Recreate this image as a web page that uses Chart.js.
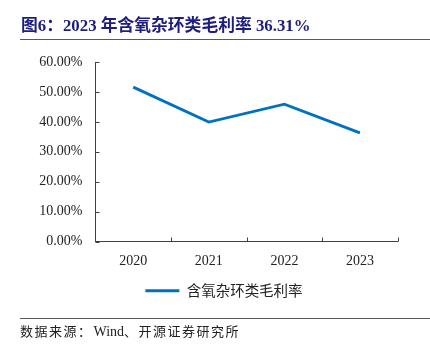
<!DOCTYPE html>
<html>
<head>
<meta charset="utf-8">
<script src="https://cdn.jsdelivr.net/npm/chart.js@4/dist/chart.umd.min.js"></script>
<style>
  html, body { margin: 0; padding: 0; background: #fff; }
  body { width: 430px; height: 356px; position: relative; overflow: hidden; }
  #wrap { position: absolute; left: 0; top: 0; width: 430px; height: 356px; }
  .title { position: absolute; left: 21px; top: 15.5px; font-family: "Liberation Serif", "Noto Sans CJK SC", serif; font-weight: bold; font-size: 16.8px; color: #1d1d7d; white-space: nowrap; line-height: 20px; }
  .rule { position: absolute; left: 20px; width: 410px; height: 0; border-top: 1.5px solid #595959; }
  .source { position: absolute; left: 20px; top: 323px; font-family: "Liberation Serif", "Noto Sans CJK SC", serif; font-size: 13px; color: #222; white-space: nowrap; line-height: 18px; }
  .source .cj { letter-spacing: 1.5px; }
  .source .en { font-size: 14px; letter-spacing: 0; margin-left: 1px; }
</style>
</head>
<body>
<div id="wrap"><canvas id="c" width="430" height="356"></canvas></div>
<div class="title">图6：2023 年含氧杂环类毛利率 36.31%</div>
<div class="rule" style="top:38.5px"></div>
<div class="rule" style="top:317.5px"></div>
<div class="source"><span class="cj">数据来源：</span><span class="en">Wind</span><span class="cj">、开源证券研究所</span></div>
<script>
const categories = ['2020', '2021', '2022', '2023'];
const seriesName = '含氧杂环类毛利率';
const grossMargin = [51.6, 39.9, 45.9, 36.31];
const yTickLabels = ['0.00%', '10.00%', '20.00%', '30.00%', '40.00%', '50.00%', '60.00%'];

const axisFont = { family: '"Liberation Serif", "Times New Roman", serif', size: 14 };

const innerTicks = {
  id: 'innerTicks',
  afterDraw(chart) {
    const ctx = chart.ctx;
    const xs = chart.scales.x, ys = chart.scales.y;
    const area = chart.chartArea;
    ctx.save();
    ctx.strokeStyle = '#404040';
    ctx.lineWidth = 1;
    ctx.beginPath();
    ys.ticks.forEach(t => {
      const y = Math.round(ys.getPixelForValue(t.value)) + 0.5;
      ctx.moveTo(area.left, y);
      ctx.lineTo(area.left + 4, y);
    });
    for (let i = 0; i < categories.length; i++) {
      const x = Math.round(xs.getPixelForValue(i + 0.5)) + 0.5;
      ctx.moveTo(x, area.bottom);
      ctx.lineTo(x, area.bottom - 4);
    }
    ctx.stroke();
    ctx.restore();
  }
};

// centre the legend row where the reference has it
const legendShift = {
  id: 'legendShift',
  afterLayout(chart) {
    const lg = chart.legend;
    if (!lg) return;
    const targetCenter = 224;
    const cur = (lg.left + lg.right) / 2;
    const d = targetCenter - cur;
    lg.left += d;
    lg.right += d;
  }
};

new Chart(document.getElementById('c'), {
  type: 'line',
  data: {
    labels: categories,
    datasets: [{
      label: seriesName,
      data: grossMargin,
      borderColor: '#0070C0',
      backgroundColor: '#0070C0',
      borderWidth: 2.8,
      pointRadius: 0,
      tension: 0,
      fill: false
    }]
  },
  options: {
    responsive: false,
    animation: false,
    devicePixelRatio: 1,
    layout: { padding: { left: 0, right: 32.3, top: 62, bottom: 48 } },
    plugins: {
      title: { display: false },
      tooltip: { enabled: false },
      legend: {
        display: true,
        position: 'bottom',
        labels: {
          usePointStyle: true,
          pointStyle: 'line',
          pointStyleWidth: 34,
          boxHeight: 14,
          color: '#222',
          font: { family: '"Noto Sans CJK SC", sans-serif', size: 14.5 },
          padding: 10
        }
      }
    },
    scales: {
      x: {
        offset: true,
        afterFit: s => { s.height = 32; },
        grid: { display: true, drawOnChartArea: false, drawTicks: false, offset: true, color: 'rgba(0,0,0,0)' },
        border: { display: true, color: '#404040', width: 1 },
        ticks: { color: '#222', font: axisFont, padding: 11, maxRotation: 0 }
      },
      y: {
        min: 0,
        max: 60,
        afterFit: s => { s.width = 95.5; },
        grid: { display: true, drawOnChartArea: false, drawTicks: false, color: 'rgba(0,0,0,0)' },
        border: { display: true, color: '#404040', width: 1 },
        ticks: {
          stepSize: 10,
          color: '#222',
          font: axisFont,
          padding: 13,
          callback: (v, i) => yTickLabels[i]
        }
      }
    }
  },
  plugins: [innerTicks, legendShift]
});
</script>
</body>
</html>
